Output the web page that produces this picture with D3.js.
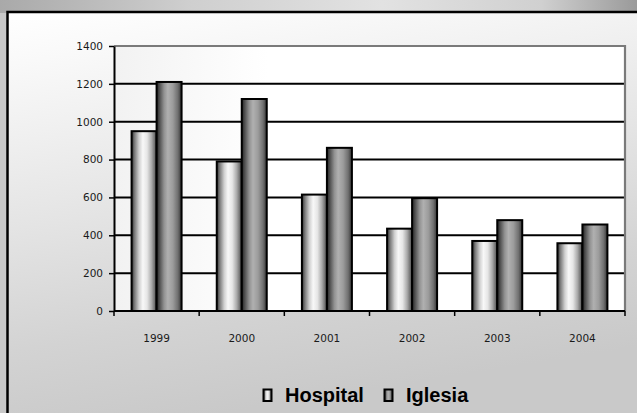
<!DOCTYPE html>
<html><head><meta charset="utf-8">
<script src="https://cdn.jsdelivr.net/npm/d3@7"></script>
<style>html,body{margin:0;padding:0;background:#c8c8c8;}svg{display:block;}</style>
</head><body>
<svg id="chart" width="637" height="413"></svg>
<script>
const years = ["1999","2000","2001","2002","2003","2004"];
const seriesNames = ["Hospital","Iglesia"];
const hospital = [950, 790, 615, 435, 370, 358];
const iglesia = [1210, 1120, 862, 596, 480, 457];
const yTicks = [0,200,400,600,800,1000,1200,1400];

(function(){
const svg = d3.select("#chart");
const defs = svg.append("defs");

function lg(id, stops, x2, y2){
  const g = defs.append("linearGradient").attr("id", id)
    .attr("x1","0").attr("y1","0").attr("x2",x2).attr("y2",y2);
  stops.forEach(s => g.append("stop").attr("offset", s[0]).attr("stop-color", s[1]));
}
lg("topbg", [[0,"#a9a9a9"],[0.3,"#cfcfcf"],[0.6,"#e2e2e2"],[0.85,"#d0d0d0"],[1,"#9a9a9a"]], "1", "0");
lg("panel", [[0,"#ffffff"],[0.12,"#f9f9f9"],[0.5,"#e4e4e4"],[0.78,"#d3d3d3"],[1,"#c9c9c9"]], "0.25", "1");
lg("plotbg", [[0,"#f2f2f2"],[1,"#ffffff"]], "0.3", "0");
lg("hosp", [[0,"#2e2e2e"],[0.12,"#7a7a7a"],[0.3,"#d0d0d0"],[0.45,"#f8f8f8"],[0.62,"#e6e6e6"],[0.8,"#aaaaaa"],[1,"#4a4a4a"]], "1", "0");
lg("igl", [[0,"#222222"],[0.12,"#505050"],[0.3,"#929292"],[0.45,"#b0b0b0"],[0.65,"#9c9c9c"],[0.85,"#707070"],[1,"#333333"]], "1", "0");

svg.append("rect").attr("x",0).attr("y",0).attr("width",637).attr("height",13).attr("fill","url(#topbg)");
svg.append("rect").attr("x",7.5).attr("y",12).attr("width",640).attr("height",410)
  .attr("fill","url(#panel)").attr("stroke","#000").attr("stroke-width",2.5);

const pL = 114, pR = 625, pT = 46, pB = 311;
const y = d3.scaleLinear().domain([0,1400]).range([pB, pT]);
const x0 = d3.scaleBand().domain(years).range([pL, pR]).padding(0);
const groupW = 50;
const x1 = d3.scaleBand().domain(seriesNames).range([(x0.bandwidth()-groupW)/2, (x0.bandwidth()+groupW)/2]).padding(0);

svg.append("rect").attr("x",pL).attr("y",pT).attr("width",pR-pL).attr("height",pB-pT)
  .attr("fill","url(#plotbg)");
svg.append("g").selectAll("line").data(yTicks.filter(t => t>0 && t<1400)).join("line")
  .attr("x1",pL).attr("x2",pR).attr("y1",d=>y(d)).attr("y2",d=>y(d))
  .attr("stroke","#000").attr("stroke-width",2);
svg.append("path").attr("d",`M${pL},${pT}H${pR}V${pB}`).attr("fill","none")
  .attr("stroke","#7a7a7a").attr("stroke-width",2.2);

const data = years.map((yr,i)=>({year:yr, vals:[{k:"Hospital",v:hospital[i]},{k:"Iglesia",v:iglesia[i]}]}));
const grp = svg.append("g").selectAll("g").data(data).join("g")
  .attr("transform", d=>`translate(${x0(d.year)},0)`);
grp.selectAll("rect").data(d=>d.vals).join("rect")
  .attr("x", d=>x1(d.k)).attr("width", x1.bandwidth())
  .attr("y", d=>y(d.v)).attr("height", d=>y(0)-y(d.v))
  .attr("fill", d=>d.k==="Hospital"?"url(#hosp)":"url(#igl)")
  .attr("stroke","#000").attr("stroke-width",2);

const yAxis = d3.axisLeft(y).tickValues(yTicks).tickFormat(d3.format("d")).tickSize(5).tickPadding(6).tickSizeOuter(0);
const ya = svg.append("g").attr("transform",`translate(${pL},0)`).call(yAxis);
ya.select(".domain").attr("stroke","#000").attr("stroke-width",2);
ya.selectAll(".tick line").attr("stroke","#000").attr("stroke-width",1.5);
ya.selectAll("text").attr("font-family","DejaVu Sans, Verdana, sans-serif").attr("font-size",10.5).attr("fill","#1a1a1a");

const bounds = years.map(d=>x0(d)).concat([pR]);
svg.append("line").attr("x1",pL).attr("x2",pR).attr("y1",pB).attr("y2",pB)
  .attr("stroke","#000").attr("stroke-width",2);
svg.append("g").selectAll("line").data(bounds).join("line")
  .attr("x1",d=>d).attr("x2",d=>d).attr("y1",pB).attr("y2",pB+5)
  .attr("stroke","#000").attr("stroke-width",1.5);
svg.append("g").selectAll("text").data(years).join("text")
  .attr("x",d=>x0(d)+x0.bandwidth()/2).attr("y",342)
  .attr("text-anchor","middle")
  .attr("font-family","DejaVu Sans, Verdana, sans-serif").attr("font-size",10.5).attr("fill","#1a1a1a")
  .text(d=>d);

const legX = [263, 384];
const leg = svg.append("g").selectAll("g").data(seriesNames).join("g")
  .attr("transform",(d,i)=>`translate(${legX[i]},389)`);
leg.append("rect").attr("x",0.5).attr("y",0.5).attr("width",8).attr("height",11.5)
  .attr("fill",d=>d==="Hospital"?"url(#hosp)":"url(#igl)").attr("stroke","#000").attr("stroke-width",2);
leg.append("text").attr("x",22).attr("y",12.7)
  .attr("font-family","Liberation Sans, Arial, sans-serif").attr("font-weight","bold").attr("font-size",20)
  .attr("fill","#000").text(d=>d);
})();
</script>
</body></html>
